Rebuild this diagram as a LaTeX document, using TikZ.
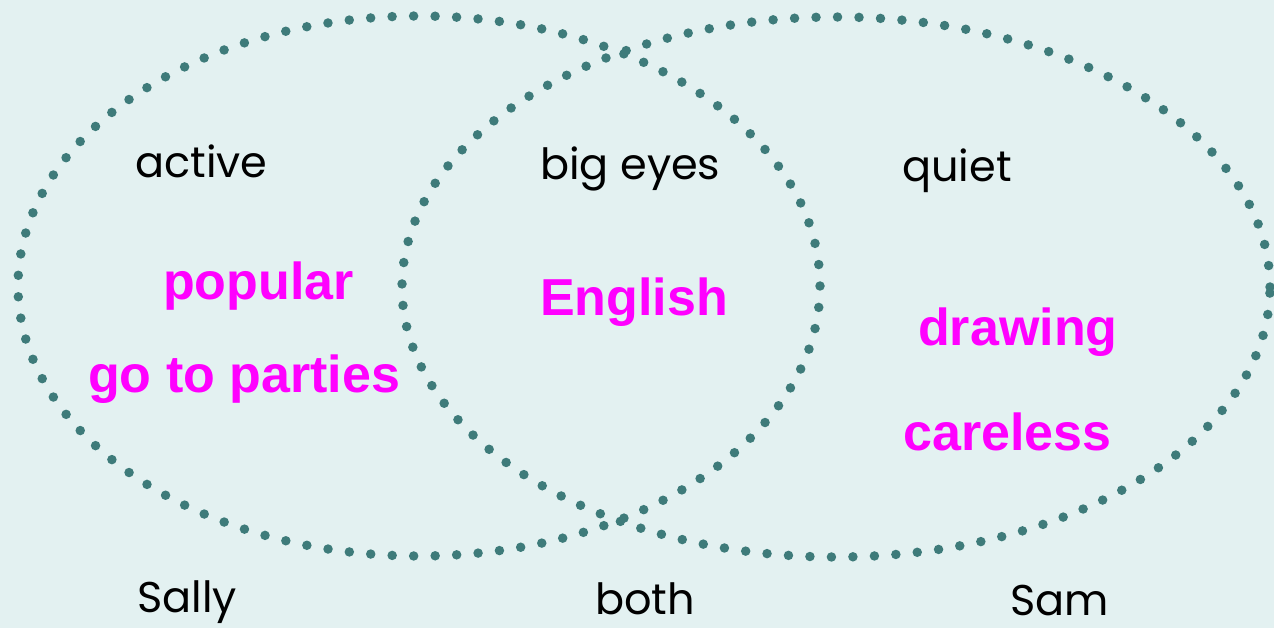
\documentclass[tikz,border=0pt]{standalone}
\usepackage{fontspec}
\setmainfont{Liberation Sans}
\newfontfamily\handfont{Poppins}
\definecolor{bgc}{HTML}{E3F1F1}
\definecolor{dotc}{HTML}{3E7B7A}
\definecolor{pinkc}{HTML}{FF00FF}
\begin{document}
\begin{tikzpicture}[x=1pt,y=-1pt,
  dotted ellipse/.style={draw=dotc, line width=9.5pt, line cap=round, dash pattern=on 0pt off 21.5pt},
  blacklabel/.style={inner sep=0pt, anchor=base west, text=black, font=\handfont\fontsize{43}{50}\selectfont},
  pinklabel/.style={inner sep=0pt, anchor=base west, text=pinkc, font=\bfseries\fontsize{52}{60}\selectfont}]
\fill[bgc] (0,0) rectangle (1274,628);
\useasboundingbox (0,0) rectangle (1274,628);
\draw[dotted ellipse] (419,286) ellipse [x radius=401pt, y radius=270pt];
\draw[dotted ellipse] (836,287) ellipse [x radius=434pt, y radius=270pt];
\node[blacklabel] (active) at (135,178) {active};
\node[blacklabel] (bigeyes) at (540,180) {big eyes};
\node[blacklabel] (quiet) at (902,182) {quiet};
\node[blacklabel] (sally) at (137,612) {Sally};
\node[blacklabel] (both) at (595,614) {both};
\node[blacklabel] (sam) at (1010,615) {Sam};
\node[pinklabel] (popular) at (163,300) {popular};
\node[pinklabel] (parties) at (88,392) {go to parties};
\node[pinklabel] (english) at (540,316) {English};
\node[pinklabel] (drawing) at (918,345) {drawing};
\node[pinklabel] (careless) at (903,450) {careless};
\end{tikzpicture}
\end{document}
